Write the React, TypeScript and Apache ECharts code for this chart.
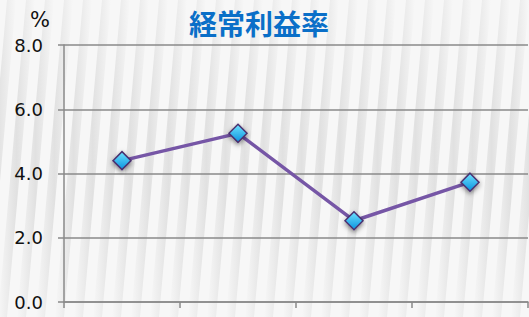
import React, { useEffect, useRef } from "react";
import * as echarts from "echarts";

const categories = ["1", "2", "3", "4"];
const ratioValues = [4.4, 5.25, 2.53, 3.73];
const yTicks = { min: 0, max: 8, interval: 2 };
const titleText = "経常利益率";
const unitText = "%";

export default function App() {
  const ref = useRef<HTMLDivElement>(null);
  useEffect(() => {
    if (!ref.current) return;
    const chart = echarts.init(ref.current, undefined, { renderer: "svg" });
    const W = 529;
    const H = 317;
    const stripes: any[] = [];
    const period = 19;
    const skew = 28;
    const sw = 9;
    for (let x0 = -40; x0 < W + 40; x0 += period) {
      stripes.push({
        type: "polygon",
        silent: true,
        z: -100,
        shape: {
          points: [
            [x0, H],
            [x0 + sw, H],
            [x0 + sw + skew, 0],
            [x0 + skew, 0],
          ],
        },
        style: {
          fill: new echarts.graphic.LinearGradient(0, 0, 1, 0, [
            { offset: 0, color: "rgba(225,225,225,0)" },
            { offset: 0.5, color: "rgba(225,225,225,1)" },
            { offset: 1, color: "rgba(225,225,225,0)" },
          ]),
        },
      });
    }
    chart.setOption({
      animation: false,
      backgroundColor: "#f7f7f7",
      graphic: [
        ...stripes,
        {
          type: "text",
          x: 259,
          y: 23,
          z: 10,
          style: {
            text: titleText,
            fill: "#0a6fc8",
            font: 'bold 28px "Noto Sans CJK JP"',
            textAlign: "center",
            textVerticalAlign: "middle",
          },
        },
      ],
      grid: { left: 64, right: 1, top: 45, bottom: 15, containLabel: false },
      xAxis: {
        type: "category",
        data: categories,
        boundaryGap: true,
        axisLine: { show: true, lineStyle: { color: "#8a8a8a", width: 1.5 } },
        axisTick: { show: true, length: 6, lineStyle: { color: "#8a8a8a", width: 1.5 } },
        axisLabel: { show: false },
        splitLine: { show: false },
      },
      yAxis: {
        type: "value",
        min: yTicks.min,
        max: yTicks.max,
        interval: yTicks.interval,
        name: unitText,
        nameLocation: "end",
        nameGap: 15,
        nameTextStyle: {
          fontFamily: "DejaVu Sans",
          fontSize: 21,
          color: "#111",
          align: "right",
          padding: [0, 14, 0, 0],
        },
        axisLine: { show: true, lineStyle: { color: "#8a8a8a", width: 1.5 } },
        axisTick: { show: true, length: 6, lineStyle: { color: "#8a8a8a", width: 1.5 } },
        axisLabel: {
          margin: 21,
          fontFamily: "DejaVu Sans",
          fontSize: 18,
          color: "#111",
          formatter: (v: number) => v.toFixed(1),
        },
        splitLine: { show: true, lineStyle: { color: "#8a8a8a", width: 1.5 } },
      },
      series: [
        {
          type: "line",
          data: ratioValues,
          symbol: "diamond",
          symbolSize: 18,
          lineStyle: { color: "#7656a6", width: 3.5 },
          itemStyle: {
            color: new echarts.graphic.LinearGradient(0, 0, 0, 1, [
              { offset: 0, color: "#6fe3ff" },
              { offset: 1, color: "#0a92de" },
            ]),
            borderColor: "#4a3270",
            borderWidth: 1.5,
            shadowBlur: 5,
            shadowColor: "rgba(0,0,0,0.5)",
            shadowOffsetY: 2,
          },
        },
      ],
    });
    return () => chart.dispose();
  }, []);
  return (
    <div
      ref={ref}
      style={{ position: "fixed", left: 0, top: 0, width: 529, height: 317 }}
    />
  );
}
